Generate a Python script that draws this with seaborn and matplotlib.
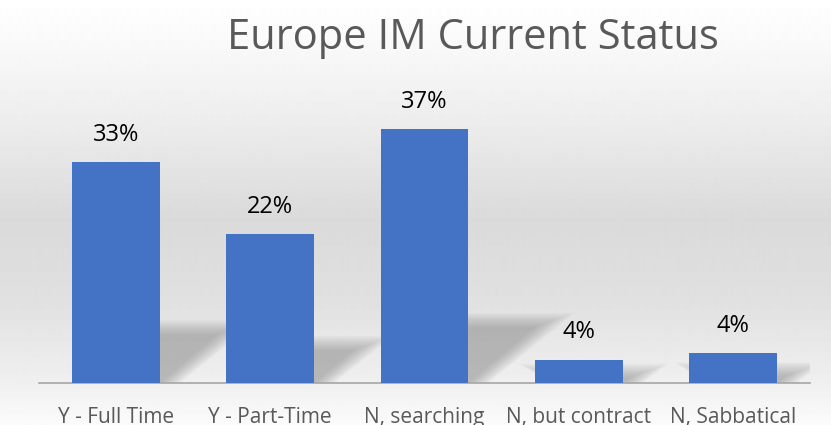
import matplotlib.pyplot as plt
import seaborn as sns
import pandas as pd
import numpy as np
from matplotlib.patches import Polygon

# values (percent)
categorias = ["Y - Full Time", "Y - Part-Time", "N, searching", "N, but contract", "N, Sabbatical"]
percentuais = [32.2, 21.7, 37.0, 3.4, 4.4]
rotulos = ["33%", "22%", "37%", "4%", "4%"]

df = pd.DataFrame({"status": categorias, "pct": percentuais})

sns.set_style("white")
plt.rcParams["font.family"] = ["Open Sans", "DejaVu Sans"]

fig = plt.figure(figsize=(8.31, 4.25), dpi=100)

# background gradient (white -> light gray -> white)
bg = fig.add_axes([0, 0, 1, 1], zorder=-10)
stops_y = [0, 40, 120, 220, 300, 383, 425]
stops_v = [1.0, 0.98, 0.93, 0.855, 0.88, 0.94, 0.985]
grad = np.interp(np.arange(425), stops_y, stops_v)
bg.imshow(grad[:, None], aspect="auto", cmap="gray", vmin=0, vmax=1,
          extent=[0, 1, 0, 1], origin="upper")
bg.axis("off")

ax = fig.add_axes([39 / 831, 42 / 425, 771 / 831, 274.6 / 425])
ax.patch.set_alpha(0)

sns.barplot(data=df, x="status", y="pct", color="#4472C4", saturation=1,
            width=0.57, linewidth=0, ax=ax, zorder=3)

ax.set_xlim(-0.5, 4.5)
ax.set_ylim(0, 40)

# soft perspective shadows behind the bars (blurred by stacking faint layers)
escala = 6.865 / 154.2  # one y unit in x units (pixel aspect)
for bar in list(ax.patches):
    x0, w, h = bar.get_x(), bar.get_width(), bar.get_height()
    sh = 0.22 * h
    dx = 0.26 * h * escala
    for k in range(14):
        g = k * 0.02
        poly = Polygon([(x0 + w * 0.2, 0), (x0 + w + g * 0.5, 0),
                        (x0 + w + dx + g, sh + g * 8),
                        (x0 + w * 0.2 + dx - g, sh + g * 8)],
                       closed=True, color="#6e6e6e", alpha=0.035, lw=0, zorder=1)
        ax.add_patch(poly)

for bar, txt in zip(ax.patches[:len(rotulos)], rotulos):
    ax.annotate(txt, (bar.get_x() + bar.get_width() / 2, bar.get_height()),
                xytext=(0, 11), textcoords="offset points",
                ha="center", va="bottom", fontsize=17, color="black")

sns.despine(ax=ax, left=True, top=True, right=True)
ax.spines["bottom"].set_color("#a6a6a6")
ax.spines["bottom"].set_linewidth(1.2)
ax.set_yticks([])
ax.set_xlabel("")
ax.set_ylabel("")
ax.tick_params(axis="x", length=0, pad=17, labelsize=15, labelcolor="#595959")

fig.text(473 / 831, 1 - 38 / 425, "Europe IM Current Status", ha="center", va="center",
         fontsize=30, color="#595959")

fig.savefig("out.png", dpi=100)
